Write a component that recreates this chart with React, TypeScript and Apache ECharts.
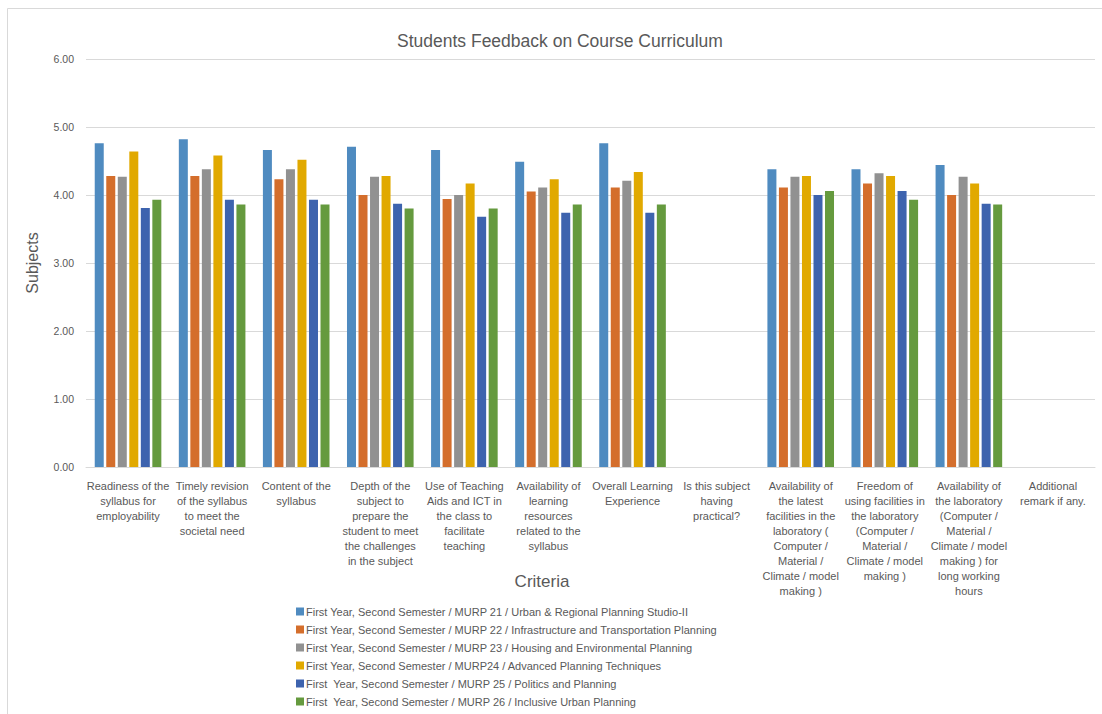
import React, { useEffect, useRef } from "react";
import * as echarts from "echarts";

const categories = [
  "Readiness of the\nsyllabus for\nemployability",
  "Timely revision\nof the syllabus\nto meet the\nsocietal need",
  "Content of the\nsyllabus",
  "Depth of the\nsubject to\nprepare the\nstudent to meet\nthe challenges\nin the subject",
  "Use of Teaching\nAids and ICT in\nthe class to\nfacilitate\nteaching",
  "Availability of\nlearning\nresources\nrelated to the\nsyllabus",
  "Overall Learning\nExperience",
  "Is this subject\nhaving\npractical?",
  "Availability of\nthe latest\nfacilities in the\nlaboratory (\nComputer /\nMaterial /\nClimate / model\nmaking )",
  "Freedom of\nusing facilities in\nthe laboratory\n(Computer /\nMaterial /\nClimate / model\nmaking )",
  "Availability of\nthe laboratory\n(Computer /\nMaterial /\nClimate / model\nmaking ) for\nlong working\nhours",
  "Additional\nremark if any.",
];

const seriesNames = [
  "First Year, Second Semester / MURP 21 / Urban & Regional Planning Studio-II",
  "First Year, Second Semester / MURP 22 / Infrastructure and Transportation Planning",
  "First Year, Second Semester / MURP 23 / Housing and Environmental Planning",
  "First Year, Second Semester / MURP24 / Advanced Planning Techniques",
  "First  Year, Second Semester / MURP 25 / Politics and Planning",
  "First  Year, Second Semester / MURP 26 / Inclusive Urban Planning",
];

const murp21 = [4.76, 4.82, 4.66, 4.71, 4.66, 4.49, 4.76, null, 4.38, 4.38, 4.44, null];
const murp22 = [4.28, 4.28, 4.23, 4.0, 3.94, 4.05, 4.11, null, 4.11, 4.17, 4.0, null];
const murp23 = [4.27, 4.38, 4.38, 4.27, 4.0, 4.11, 4.21, null, 4.27, 4.32, 4.27, null];
const murp24 = [4.64, 4.58, 4.52, 4.28, 4.17, 4.23, 4.34, null, 4.28, 4.28, 4.17, null];
const murp25 = [3.81, 3.93, 3.93, 3.87, 3.68, 3.74, 3.74, null, 4.0, 4.06, 3.87, null];
const murp26 = [3.93, 3.86, 3.86, 3.8, 3.8, 3.86, 3.86, null, 4.06, 3.93, 3.86, null];

const seriesValues = [murp21, murp22, murp23, murp24, murp25, murp26];
const colors = ["#4F8BC0", "#D46E2C", "#919191", "#E1A900", "#3D63AE", "#659A3E"];

const yTicks = [0, 1, 2, 3, 4, 5, 6];

const FONT = "Liberation Sans";

export default function App() {
  const ref = useRef<HTMLDivElement>(null);

  useEffect(() => {
    if (!ref.current) return;
    const chart = echarts.init(ref.current, undefined, { renderer: "svg" });
    chart.setOption({
      animation: false,
      textStyle: { fontFamily: FONT },
      title: {
        text: "Students Feedback on Course Curriculum",
        left: 392,
        top: 27,
        textStyle: { fontFamily: FONT, fontSize: 17.5, fontWeight: "normal", color: "#595959" },
      },
      graphic: [
        {
          type: "line",
          shape: { x1: 7.5, y1: 8.5, x2: 1102, y2: 8.5 },
          style: { stroke: "#D9D9D9", lineWidth: 1 },
        },
        {
          type: "line",
          shape: { x1: 7.5, y1: 8.5, x2: 7.5, y2: 714 },
          style: { stroke: "#D9D9D9", lineWidth: 1 },
        },
        {
          type: "text",
          x: 542,
          y: 581,
          style: {
            text: "Criteria",
            fontFamily: FONT,
            fontSize: 17,
            fill: "#595959",
            align: "center",
            verticalAlign: "middle",
          },
        },
      ],
      legend: {
        orient: "vertical",
        left: 296,
        top: 605,
        padding: 0,
        height: 110,
        itemWidth: 8,
        itemHeight: 8,
        itemGap: 5,
        icon: "rect",
        data: seriesNames,
        textStyle: { fontFamily: FONT, fontSize: 11, color: "#595959", lineHeight: 13, padding: [0, 0, 0, -3] },
      },
      grid: { left: 86, right: 7, top: 59, bottom: 247, containLabel: false },
      xAxis: {
        type: "category",
        data: categories,
        axisLine: { show: true, lineStyle: { color: "#D9D9D9" } },
        axisTick: { show: false },
        axisLabel: {
          interval: 0,
          fontFamily: FONT,
          fontSize: 11,
          color: "#595959",
          lineHeight: 15,
          margin: 11,
          align: "center",
        },
      },
      yAxis: {
        type: "value",
        min: yTicks[0],
        max: yTicks[yTicks.length - 1],
        interval: 1,
        name: "Subjects",
        nameLocation: "middle",
        nameGap: 46,
        nameTextStyle: { fontFamily: FONT, fontSize: 16, color: "#595959" },
        axisLine: { show: false },
        axisTick: { show: false },
        axisLabel: {
          fontFamily: FONT,
          fontSize: 10.5,
          color: "#595959",
          margin: 12,
          formatter: (v: number) => v.toFixed(2),
        },
        splitLine: { lineStyle: { color: "#D9D9D9", width: 1 } },
      },
      series: seriesNames.map((name, i) => ({
        name,
        type: "bar",
        data: seriesValues[i],
        barWidth: 9,
        barGap: "28%",
        itemStyle: { color: colors[i] },
      })),
    });
    return () => chart.dispose();
  }, []);

  return (
    <div
      ref={ref}
      style={{ position: "absolute", left: 0, top: 0, width: 1102, height: 714, background: "#fff" }}
    />
  );
}
